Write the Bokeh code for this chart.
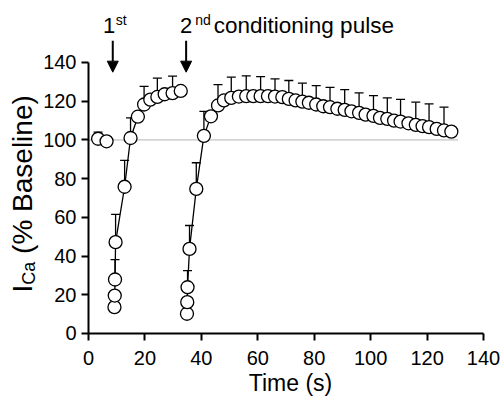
import math
from bokeh.plotting import figure
from bokeh.models import (Range1d, FixedTicker, ColumnDataSource, Whisker, TeeHead,
                          Arrow, NormalHead, Label)
from bokeh.embed import file_html
from bokeh.resources import INLINE

FONT = "Liberation Sans"

# ---------------- data ----------------
x_ticks = [0, 20, 40, 60, 80, 100, 120, 140]
y_ticks = [0, 20, 40, 60, 80, 100, 120, 140]

pulse_times = [8.6, 34.6]

# baseline (not connected)
t_base = [3.4, 6.4]
y_base = [100.6, 99.3]
N = float("nan")
e_base = [3.4, N]

# after 1st conditioning pulse
t1 = [9.2, 9.3, 9.4, 9.6, 12.8, 14.9, 17.5, 19.7, 21.9, 24.4, 27.0, 29.8, 32.7]
y1 = [13.6, 19.6, 27.9, 47.2, 75.8, 101.0, 112.0, 118.3, 120.8, 122.2, 123.6, 124.2, 125.3]
e1 = [N, N, 10.3, 14.3, 13.6, 10.4, N, 9.4, N, 9.7, N, 8.8, N]

# after 2nd conditioning pulse
t2 = [34.9, 35.0, 35.1, 35.8, 38.2, 40.9, 43.4, 45.9, 48.0, 50.6, 53.3, 55.9, 58.4,
      61.0, 63.6, 66.1, 68.7, 71.0, 73.4, 75.8, 78.1, 80.7, 83.2, 85.6, 88.2, 90.8,
      93.2, 95.9, 98.2, 101.0, 103.3, 105.9, 108.3, 110.6, 113.4, 116.0, 118.4,
      120.7, 123.4, 126.0, 128.6]
y2 = [10.2, 16.2, 23.9, 43.7, 74.7, 102.1, 112.2, 117.8, 120.4, 121.7, 122.4, 122.6,
      122.6, 122.6, 122.6, 122.4, 122.1, 121.2, 120.4, 119.8, 119.2, 118.3, 117.4,
      116.9, 116.1, 115.5, 114.8, 114.0, 113.1, 112.4, 111.4, 110.9, 110.0, 109.5,
      108.6, 107.8, 107.1, 106.6, 105.7, 104.9, 104.3]
e2 = [N, N, 8.6, 12.1, 13.5, 12.7, N, 10.8, N, 10.7, N, 10.5, N,
      10.1, N, 9.1, N, 9.5, N, 9.5, N, 9.8, N, 10.3, N, 10.5,
      N, 10.3, N, 10.5, N, 10.8, N, 11.4, N, 11.7, N,
      12.0, N, 12.0, N]

baseline_level = 100
baseline_span = [0, 131]

# ---------------- figure ----------------
# the frame covers the whole canvas; axes are pinned at x=0 / y=0
p = figure(width=502, height=396,
           x_range=Range1d(-31.19, 146.73), y_range=Range1d(-32.55, 172.03),
           output_backend="svg", toolbar_location=None,
           min_border_left=0, min_border_right=0, min_border_top=0, min_border_bottom=0)
p.outline_line_color = None
p.xgrid.visible = False
p.ygrid.visible = False
p.background_fill_color = "white"
p.border_fill_color = "white"

for ax, ticks in ((p.xaxis[0], x_ticks), (p.yaxis[0], y_ticks)):
    ax.ticker = FixedTicker(ticks=ticks)
    ax.bounds = (0, 140)
    ax.fixed_location = 0
    ax.axis_line_width = 2
    ax.axis_line_color = "black"
    ax.major_tick_line_width = 2
    ax.major_tick_line_color = "black"
    ax.major_tick_in = 0
    ax.major_tick_out = 7
    ax.minor_tick_line_color = None
    ax.major_label_text_font = FONT
    ax.major_label_text_font_size = "20px"
    ax.major_label_text_color = "black"
p.xaxis.major_label_standoff = 11
p.yaxis.major_label_standoff = 5

# grey 100% reference line
p.line(baseline_span, [baseline_level, baseline_level], line_color="#b4b4b4", line_width=1)

# error bars (upper only)
def err_source(t, y, e):
    xs, lo, up = [], [], []
    for ti, yi, ei in zip(t, y, e):
        if ei == ei:
            xs.append(ti); lo.append(yi); up.append(yi + ei)
    return ColumnDataSource(dict(x=xs, lower=lo, upper=up))

for t, y, e in ((t_base, y_base, e_base), (t1, y1, e1), (t2, y2, e2)):
    w = Whisker(source=err_source(t, y, e), base="x", lower="lower", upper="upper",
                line_color="black", line_width=1.3, lower_head=None,
                upper_head=TeeHead(size=9, line_color="black", line_width=1.3))
    p.add_layout(w)

# connecting lines
p.line(t1, y1, line_color="black", line_width=1.3)
p.line(t2, y2, line_color="black", line_width=1.3)

# open circles
for t, y in ((t_base, y_base), (t1, y1), (t2, y2)):
    p.scatter(t, y, marker="circle", size=13, fill_color="white",
              line_color="black", line_width=1.3)

# arrows marking the conditioning pulses
for tp in pulse_times:
    p.add_layout(Arrow(x_start=tp, y_start=151.3, x_end=tp, y_end=135.0,
                       line_width=2, line_color="black",
                       end=NormalHead(size=11, fill_color="black", line_color="black")))

def lab(x, y, text, size, angle=0.0, align="left"):
    p.add_layout(Label(x=x, y=y, text=text, angle=angle, text_font=FONT,
                       text_font_size=size, text_color="black",
                       text_align=align, text_baseline="alphabetic"))

# pulse labels
lab(5.1, 159.3, "1", "22px")
lab(9.7, 161.9, "st", "14px")
lab(32.4, 159.3, "2", "22px")
lab(37.8, 161.9, "nd", "14px")
lab(44.4, 159.3, "conditioning pulse", "22.5px")

# x-axis title
lab(71.6, -25.6, "Time (s)", "23px", align="center")

# y-axis title: I_Ca (% Baseline), rotated
rot = math.pi / 2
lab(-23.4, 21.2, "I", "28px", angle=rot)
lab(-21.25, 25.2, "Ca", "18px", angle=rot)
lab(-23.4, 41.1, "(% Baseline)", "28px", angle=rot)

open("out.html", "w").write(file_html(p, INLINE))
